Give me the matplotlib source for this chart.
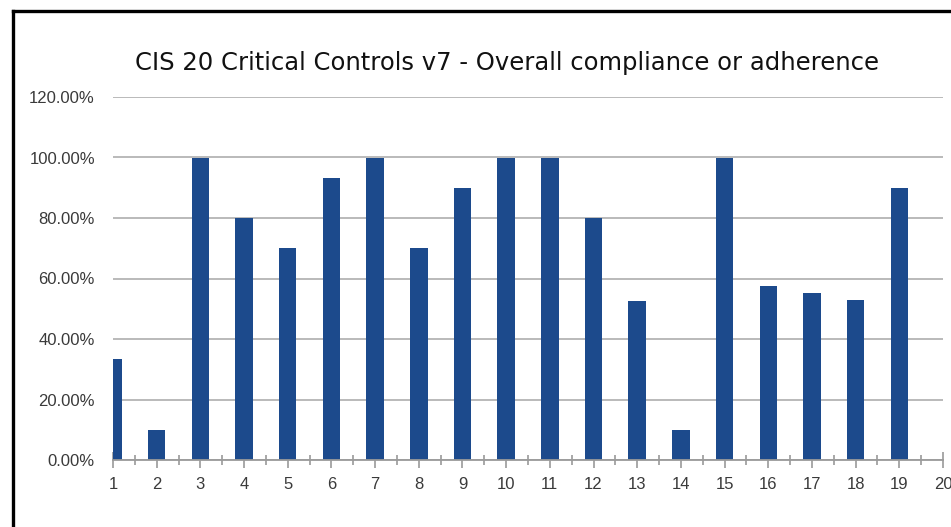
import matplotlib
matplotlib.use("Agg")
import matplotlib.pyplot as plt
from matplotlib.lines import Line2D
from matplotlib.ticker import MultipleLocator, FuncFormatter

plt.rcParams['font.family'] = ['Liberation Sans', 'DejaVu Sans']

title = "CIS 20 Critical Controls v7 - Overall compliance or adherence"
controls = list(range(1, 20))
compliance = [33.4, 10.0, 100.0, 80.0, 70.0, 93.3, 100.0, 70.0, 90.0, 100.0,
              100.0, 80.0, 52.4, 10.0, 100.0, 57.4, 55.2, 52.9, 90.0]

W, H = 951, 527
fig = plt.figure(figsize=(W / 100, H / 100), dpi=100)
fig.patch.set_facecolor('white')

ax = fig.add_axes([113 / W, 1 - 460 / H, (943 - 113) / W, (460 - 97) / H])
ax.bar(controls, [v / 100 for v in compliance], width=0.4, color='#1c4a8c', zorder=3)

ax.set_xlim(1, 20)
ax.set_ylim(0, 1.2)
ax.yaxis.set_major_locator(MultipleLocator(0.2))
ax.yaxis.set_major_formatter(FuncFormatter(lambda v, p: f"{v * 100:.2f}%"))
ax.xaxis.set_major_locator(MultipleLocator(1))
ax.xaxis.set_minor_locator(MultipleLocator(0.5))

ax.grid(axis='y', color='#b4b4b4', linewidth=1.3, zorder=0)
for s in ['left', 'right', 'top']:
    ax.spines[s].set_visible(False)
ax.spines['bottom'].set_color('#9a9a9a')
ax.spines['bottom'].set_linewidth(1.3)
ax.spines['bottom'].set_zorder(4)

ax.tick_params(axis='y', length=0, pad=13, labelsize=12, labelcolor='#3a3a3a')
ax.tick_params(axis='x', which='major', direction='inout', length=11, width=1.2,
               color='#9a9a9a', labelsize=12, labelcolor='#3a3a3a', pad=7)
ax.tick_params(axis='x', which='minor', direction='inout', length=7, width=1.2,
               color='#9a9a9a')

fig.text(507 / W, 1 - 63 / H, title, ha='center', va='center', fontsize=17.5,
         color='#111111', family=['DejaVu Sans'])

# outer frame (cropped screenshot border)
fig.add_artist(Line2D([13 / W, 1.0], [1 - 11 / H, 1 - 11 / H], transform=fig.transFigure,
                      color='black', linewidth=2.4))
fig.add_artist(Line2D([13 / W, 13 / W], [0.0, 1 - 11 / H], transform=fig.transFigure,
                      color='black', linewidth=2.4))

fig.savefig('out.png', dpi=100)
